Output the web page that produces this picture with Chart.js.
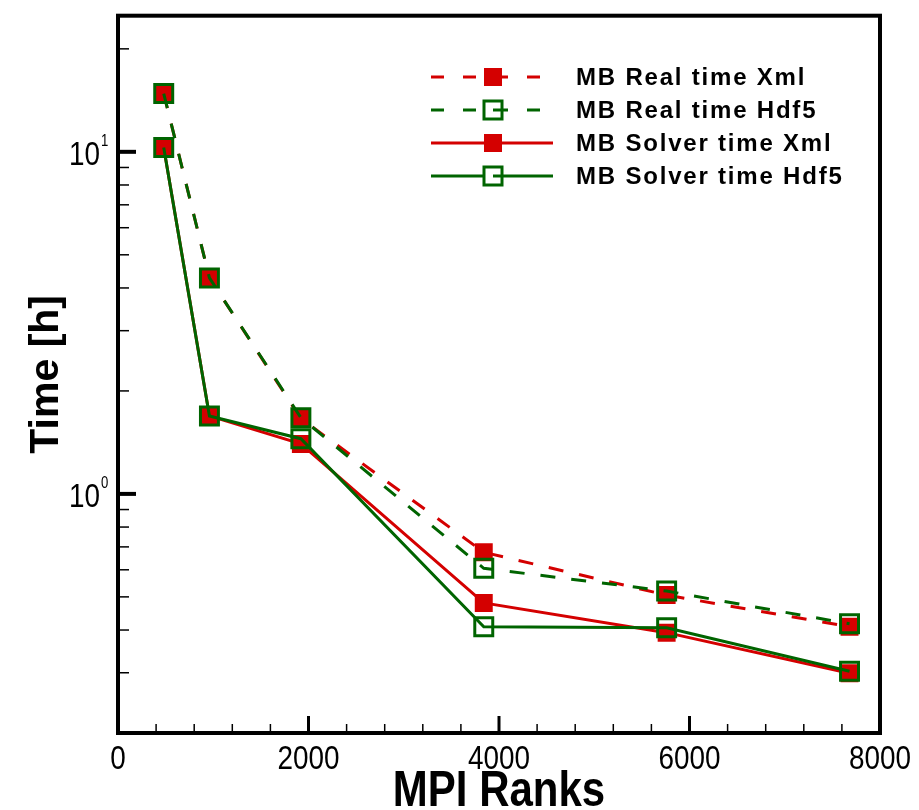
<!DOCTYPE html>
<html>
<head>
<meta charset="utf-8">
<script src="https://cdn.jsdelivr.net/npm/chart.js@4"></script>
<style>
  html, body { margin: 0; padding: 0; background: #fff; }
  #wrap { width: 919px; height: 810px; }
</style>
</head>
<body>
<div id="wrap"><canvas id="timeChart"></canvas></div>
<script>
// values (time in hours, log axis)
const ranks = [480, 960, 1920, 3840, 5760, 7680];
const realXml = [14.8, 4.28, 1.66, 0.675, 0.506, 0.409];
const realHdf5 = [14.8, 4.28, 1.67, 0.606, 0.52, 0.417];
const solverXml = [10.3, 1.69, 1.40, 0.48, 0.393, 0.299];
const solverHdf5 = [10.3, 1.69, 1.45, 0.409, 0.406, 0.303];
const seriesLabels = ['MB Real time Xml', 'MB Real time Hdf5', 'MB Solver time Xml', 'MB Solver time Hdf5'];
const xTicks = [0, 2000, 4000, 6000, 8000];
const xTickLabels = ['0', '2000', '4000', '6000', '8000'];
const yTicks = [1, 10];
const yTickLabels = [['10', '0'], ['10', '1']];
const xTitle = 'MPI Ranks';

const RED = '#d40000';
const GREEN = '#006400';
const SANS = '"Liberation Sans", Arial, sans-serif';

function pts(values) {
    return ranks.map((r, i) => ({ x: r, y: values[i] }));
}

function makeSet(label, values, color, filled, dashed, order) {
    return {
        label: label,
        data: pts(values),
        borderColor: color,
        borderWidth: 3,
        borderDash: dashed ? [15, 16] : [],
        pointStyle: 'rect',
        pointRadius: 12.7,
        pointHoverRadius: 12.7,
        pointBackgroundColor: filled ? color : 'rgba(0,0,0,0)',
        pointBorderColor: color,
        pointBorderWidth: filled ? 0 : 3,
        fill: false,
        tension: 0,
        order: order
    };
}

// condensed text (no narrow font installed, so squeeze horizontally)
function narrowText(ctx, text, x, y, align, font, sx) {
    ctx.save();
    ctx.translate(x, y);
    ctx.scale(sx, 1);
    ctx.font = font;
    ctx.textAlign = align;
    ctx.textBaseline = 'alphabetic';
    ctx.fillText(text, 0, 0);
    ctx.restore();
}

// frame, inward ticks, tick labels, x title and the line-sample legend
const decorPlugin = {
    id: 'decor',
    afterDraw(chart) {
        const ctx = chart.ctx;
        const a = chart.chartArea;
        const xs = chart.scales.x;
        const ys = chart.scales.y;
        ctx.save();
        ctx.strokeStyle = '#000';

        // x ticks (major every 2000, minor every 400)
        for (let v = 0; v <= 8000; v += 400) {
            const px = xs.getPixelForValue(v);
            const major = v % 2000 === 0;
            ctx.lineWidth = major ? 3 : 1.5;
            ctx.beginPath();
            ctx.moveTo(px, a.bottom);
            ctx.lineTo(px, a.bottom - (major ? 17 : 9));
            ctx.stroke();
        }
        // y ticks (log decades + minors)
        for (let k = -1; k <= 1; k++) {
            for (let d = 1; d <= 9; d++) {
                const v = d * Math.pow(10, k);
                if (v < ys.min || v > ys.max) continue;
                const py = ys.getPixelForValue(v);
                const major = d === 1;
                ctx.lineWidth = major ? 4 : 1.5;
                ctx.beginPath();
                ctx.moveTo(a.left, py);
                ctx.lineTo(a.left + (major ? 18 : 11), py);
                ctx.stroke();
            }
        }

        // frame
        ctx.lineWidth = 4;
        ctx.strokeRect(a.left, a.top, a.right - a.left, a.bottom - a.top);

        ctx.fillStyle = '#000';
        // x tick labels
        xTicks.forEach((v, i) => {
            narrowText(ctx, xTickLabels[i], xs.getPixelForValue(v), a.bottom + 36, 'center', '34px ' + SANS, 0.82);
        });
        // x title
        narrowText(ctx, xTitle, (a.left + a.right) / 2, 806, 'center', 'bold 50px ' + SANS, 0.84);

        // y tick labels 10^n
        yTicks.forEach((v, i) => {
            const py = ys.getPixelForValue(v);
            narrowText(ctx, yTickLabels[i][0], 100, py + 13, 'right', '34px ' + SANS, 0.82);
            narrowText(ctx, yTickLabels[i][1], 101, py - 6, 'left', '16px ' + SANS, 0.82);
        });

        // legend
        chart.data.datasets.forEach((ds, i) => {
            const y = 77 + i * 33;
            const x0 = 431, x1 = 553, xm = 493;
            ctx.strokeStyle = ds.borderColor;
            ctx.lineWidth = 3;
            ctx.setLineDash(ds.borderDash.length ? [13, 19] : []);
            ctx.beginPath();
            ctx.moveTo(x0, y);
            ctx.lineTo(x1, y);
            ctx.stroke();
            ctx.setLineDash([]);
            const s = 9;
            if (ds.pointBorderWidth === 0) {
                ctx.fillStyle = ds.pointBackgroundColor;
                ctx.fillRect(xm - s, y - s, 2 * s, 2 * s);
            } else {
                ctx.fillStyle = '#fff';
                ctx.fillRect(xm - s, y - s, 2 * s, 2 * s);
                ctx.lineWidth = 3;
                ctx.strokeRect(xm - s, y - s, 2 * s, 2 * s);
                ctx.beginPath();
                ctx.moveTo(xm, y);
                ctx.lineTo(xm + s, y);
                ctx.stroke();
            }
            ctx.fillStyle = '#000';
            ctx.font = 'bold 24px ' + SANS;
            ctx.letterSpacing = '1.8px';
            ctx.textAlign = 'left';
            ctx.textBaseline = 'middle';
            ctx.fillText(ds.label, 576, y + 1);
            ctx.letterSpacing = '0px';
        });
        ctx.restore();
    }
};

const chart = new Chart(document.getElementById('timeChart'), {
    type: 'line',
    data: {
        datasets: [
            makeSet(seriesLabels[0], realXml, RED, true, true, 2),
            makeSet(seriesLabels[1], realHdf5, GREEN, false, true, 1),
            makeSet(seriesLabels[2], solverXml, RED, true, false, 2),
            makeSet(seriesLabels[3], solverHdf5, GREEN, false, false, 1)
        ]
    },
    options: {
        responsive: true,
        maintainAspectRatio: false,
        animation: false,
        layout: { padding: { top: 11, right: 39, left: 0, bottom: 0 } },
        plugins: {
            legend: { display: false },
            tooltip: { enabled: false }
        },
        scales: {
            x: {
                type: 'linear',
                min: 0,
                max: 8000,
                afterFit: (scale) => { scale.height = 77; },
                grid: { display: false },
                border: { display: false },
                ticks: { display: false }
            },
            y: {
                type: 'logarithmic',
                min: 0.2,
                max: 25,
                afterFit: (scale) => { scale.width = 118; },
                grid: { display: false },
                border: { display: false },
                ticks: { display: false },
                title: {
                    display: true,
                    text: 'Time [h]',
                    color: '#000',
                    padding: { top: 22, bottom: 0 },
                    font: { family: SANS, size: 41, weight: 'bold' }
                }
            }
        }
    },
    plugins: [decorPlugin]
});
</script>
</body>
</html>
